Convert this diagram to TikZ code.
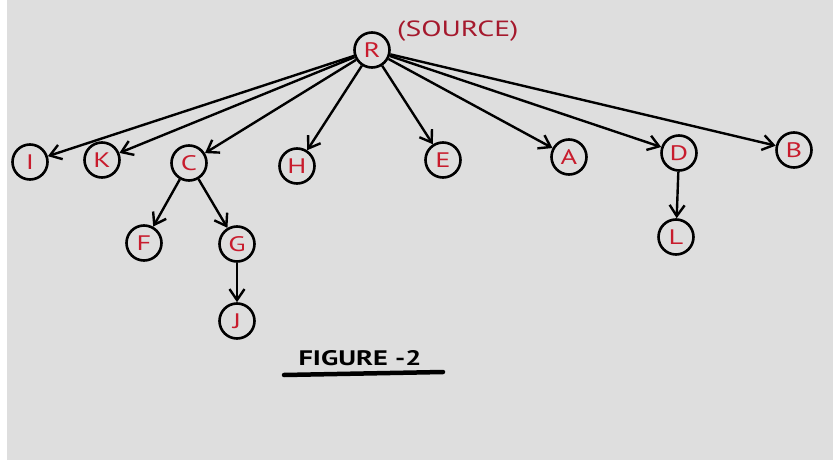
\documentclass[tikz,border=0pt]{standalone}
\usepackage{fontspec}
\setmainfont{PT Sans}
\newfontfamily\widehand[FakeStretch=1.35]{PT Sans}
\usetikzlibrary{arrows.meta}
\definecolor{paper}{RGB}{222,222,222}
\definecolor{letter}{RGB}{200,28,45}
\definecolor{note}{RGB}{165,25,45}
\tikzset{
  vtx/.style={circle, draw=black, line width=2.6pt, minimum size=35pt, inner sep=0pt,
              text=letter, font=\widehand\fontsize{21}{21}\selectfont},
  link/.style={line width=2.4pt, draw=black, -{Straight Barb[length=11pt,width=15pt,line width=2.4pt]}},
}
\begin{document}
\begin{tikzpicture}[x=1pt,y=-1pt]
  % page with a thin white margin on the left
  \fill[white] (0,0) rectangle (833,460);
  \fill[paper] (7,0) rectangle (833,460);
  \useasboundingbox (0,0) rectangle (833,460);

  % vertices
  \node[vtx] (R) at (372,50) {R};
  \node[vtx] (I) at (30,162) {I};
  \node[vtx] (K) at (102,160) {K};
  \node[vtx] (C) at (189,163) {C};
  \node[vtx] (H) at (297,166) {H};
  \node[vtx] (E) at (443,160) {E};
  \node[vtx] (A) at (569,157) {A};
  \node[vtx] (D) at (679,153) {D};
  \node[vtx] (B) at (794,150) {B};
  \node[vtx] (F) at (144,243) {F};
  \node[vtx] (G) at (237,244) {G};
  \node[vtx] (J) at (237,321) {J};
  \node[vtx] (L) at (676,237) {L};

  % source label
  \node[text=note, font=\widehand\fontsize{22}{22}\selectfont, anchor=west, inner sep=0pt] (src) at (397,31) {(SOURCE)};

  % edges
  \foreach \t in {I,K,C,H,E,A,D,B} \draw[link] (R) -- (\t);
  \draw[link] (C) -- (F);
  \draw[link] (C) -- (G);
  \draw[link] (G) -- (J);
  \draw[link] (D) -- (L);

  % caption
  \node[font=\widehand\bfseries\fontsize{21}{21}\selectfont, anchor=base, inner sep=0pt] (cap) at (360,365) {FIGURE -2};
  \coordinate (u1) at (284,375);
  \coordinate (u2) at (443,372);
  \draw[line width=4.5pt, line cap=round] (u1) -- (u2);
\end{tikzpicture}
\end{document}
